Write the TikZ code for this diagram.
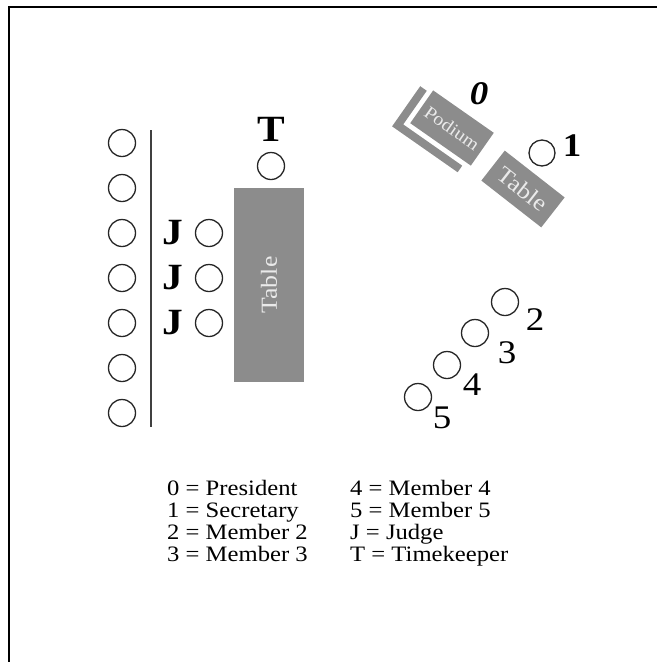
\documentclass[tikz,border=0pt]{standalone}
\usepackage{fontspec}
\setmainfont[FakeStretch=1.12]{Liberation Serif}
\usepackage{tikz}
\usetikzlibrary{positioning}

\definecolor{masagri}{RGB}{140,140,140}
\definecolor{scrisgri}{RGB}{234,234,234}

\begin{document}
\begin{tikzpicture}[x=1pt, y=-1pt]
        \tikzstyle{every node} = [inner sep=0pt]
        \tikzstyle{scaun}      = [circle, draw=black!85, line width=1.3pt, minimum size=27pt]
        \tikzstyle{masa}       = [fill=masagri, text=scrisgri, font=\fontsize{23}{23}\selectfont]
        \tikzstyle{cifra}      = [font=\fontsize{33}{33}\selectfont]
        \tikzstyle{litera}     = [font=\fontsize{37}{37}\selectfont\bfseries]
        \tikzstyle{legenda}    = [anchor=base west, font=\fontsize{22}{22}\selectfont]

        \useasboundingbox (0,0) rectangle (657,662);
        \draw[line width=2.2pt] (9,662) -- (9,7) -- (657,7);

        % Publicul, juriul si cronometrorul.
        \foreach \i in {0,...,6}
            \node[scaun] (public\i) at (122,143+45*\i) {};
        \draw[line width=1.6pt, black!75] (151,130) -- (151,427);

        \foreach \i/\y in {1/233, 2/278, 3/323} {
            \node[scaun] (judecator\i) at (209,\y) {};
            \node[litera, left=11pt of judecator\i] (J\i) {J};
        }

        \node[masa, rotate=90, minimum width=194pt, minimum height=70pt] (masaJuriu) at (269,285) {Table};
        \node[scaun] (cronometror) at (271,166) {};
        \node[litera, above=10pt of cronometror] (T) {T};

        % Prezidiul.
        \node[masa, rotate=-35, minimum width=74pt, minimum height=40pt,
              font=\fontsize{18}{18}\selectfont] (podium) at (452,128) {Podium};
        \begin{scope}[shift={(podium.center)}, rotate=-35]
            \fill[masagri] (-50,-16) -- (-42,-16) -- (-42,25) -- (30,25) -- (30,33) -- (-50,33) -- cycle;
        \end{scope}
        \node[cifra] (nr0) at (479,94) {\bfseries\itshape 0};

        \node[masa, rotate=-38, minimum width=76pt, minimum height=38pt] (masaBirou) at (523,189) {Table};
        \node[scaun, minimum size=26pt] (secretar) at (542,153) {};
        \node[cifra] (nr1) at (572,146) {\bfseries 1};

        \foreach \i/\x/\y/\lx/\ly in {2/505/302/535/320, 3/475/333/507/353,
                                      4/447/365/472/385, 5/418/397/442/418} {
            \node[scaun] (membru\i) at (\x,\y) {};
            \node[cifra] (nr\i) at (\lx,\ly) {\i};
        }

        % Legenda.
        \foreach \r/\st/\dr in {0/{0 = President}/{4 = Member 4}, 1/{1 = Secretary}/{5 = Member 5},
                                2/{2 = Member 2}/{J = Judge}, 3/{3 = Member 3}/{T = Timekeeper}} {
            \node[legenda] (legst\r) at (167,495+22*\r) {\st};
            \node[legenda] (legdr\r) at (350,495+22*\r) {\dr};
        }
\end{tikzpicture}
\end{document}
